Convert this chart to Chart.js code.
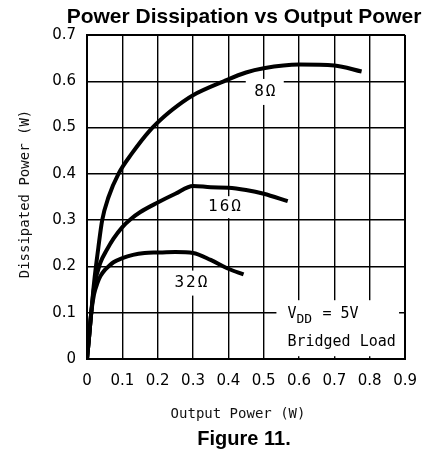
<!DOCTYPE html>
<html><head><meta charset="utf-8">
<script src="https://cdn.jsdelivr.net/npm/chart.js@4.4.1/dist/chart.umd.min.js"></script>
<style>html,body{margin:0;padding:0;background:#fff}#wrap{width:430px;height:457px}</style>
</head><body><div id="wrap"><canvas id="c" width="430" height="457"></canvas></div>
<script>
// ---- data ----
const xTicks = [0, 0.1, 0.2, 0.3, 0.4, 0.5, 0.6, 0.7, 0.8, 0.9];
const xTickLabels = ['0', '0.1', '0.2', '0.3', '0.4', '0.5', '0.6', '0.7', '0.8', '0.9'];
const yTicks = [0, 0.1, 0.2, 0.3, 0.4, 0.5, 0.6, 0.7];
const yTickLabels = ['0', '0.1', '0.2', '0.3', '0.4', '0.5', '0.6', '0.7'];
const seriesNames = ['8Ω', '16Ω', '32Ω'];

const x8 = [0, 0.005, 0.012, 0.02, 0.032, 0.043, 0.061, 0.089, 0.126, 0.177, 0.22, 0.27, 0.3, 0.387, 0.45, 0.5, 0.6, 0.7, 0.777];
const y8 = [0, 0.04, 0.10, 0.165, 0.24, 0.30, 0.35, 0.40, 0.443, 0.493, 0.525, 0.555, 0.57, 0.60, 0.619, 0.628, 0.636, 0.634, 0.621];

const x16 = [0, 0.005, 0.012, 0.02, 0.038, 0.057, 0.075, 0.1, 0.125, 0.15, 0.2, 0.25, 0.3, 0.35, 0.4, 0.45, 0.5, 0.568];
const y16 = [0, 0.04, 0.10, 0.155, 0.208, 0.237, 0.26, 0.285, 0.303, 0.317, 0.338, 0.357, 0.374, 0.371, 0.37, 0.365, 0.357, 0.341];

const x32 = [0, 0.005, 0.012, 0.02, 0.03, 0.038, 0.05, 0.061, 0.075, 0.1, 0.13, 0.163, 0.2, 0.25, 0.3, 0.35, 0.4, 0.443];
const y32 = [0, 0.04, 0.10, 0.14, 0.165, 0.179, 0.192, 0.20, 0.209, 0.218, 0.225, 0.229, 0.23, 0.231, 0.229, 0.214, 0.195, 0.183];

// ---- text ----
const titleText = 'Power Dissipation vs Output Power';
const xTitle = 'Output Power (W)';
const yTitle = 'Dissipated Power (W)';
const figText = 'Figure 11.';

const toPts = (xs, ys) => xs.map((x, i) => ({x: x, y: ys[i]}));

// label anchors in data units
const curveLabels = [
  {text: '8Ω', x: 0.503, y: 0.577, w: 38, h: 26},
  {text: '16Ω', x: 0.389, y: 0.328, w: 42, h: 22},
  {text: '32Ω', x: 0.294, y: 0.164, w: 44, h: 25}
];

const mono = "'DejaVu Sans Mono', monospace";

const annot = {
  id: 'annot',
  beforeDatasetsDraw(chart) {
    const {ctx, scales: {x, y}} = chart;
    ctx.save();
    ctx.fillStyle = '#fff';
    const bx0 = x.getPixelForValue(0.536), bx1 = x.getPixelForValue(0.883);
    const by0 = y.getPixelForValue(0.127), by1 = y.getPixelForValue(0.006);
    ctx.fillRect(bx0, by0, bx1 - bx0, by1 - by0);
    curveLabels.forEach(l => {
      const px = x.getPixelForValue(l.x), py = y.getPixelForValue(l.y);
      ctx.fillRect(px - l.w / 2, py - l.h / 2, l.w, l.h);
    });
    ctx.restore();
  },
  afterDatasetsDraw(chart) {
    const {ctx, scales: {x, y}} = chart;
    ctx.save();
    ctx.fillStyle = '#000';
    ctx.textBaseline = 'middle';
    ctx.textAlign = 'center';
    ctx.font = '16px ' + mono;
    try { ctx.letterSpacing = '2px'; } catch (e) {}
    curveLabels.forEach(l => {
      ctx.fillText(l.text, x.getPixelForValue(l.x) + 1, y.getPixelForValue(l.y));
    });
    try { ctx.letterSpacing = '0px'; } catch (e) {}
    ctx.textAlign = 'left';
    ctx.font = '15px ' + mono;
    const tx = x.getPixelForValue(0.567);
    const ty1 = y.getPixelForValue(0.098);
    const ty2 = y.getPixelForValue(0.037);
    ctx.fillText('V', tx, ty1);
    ctx.font = '13px ' + mono;
    ctx.fillText('DD', tx + 9, ty1 + 6);
    ctx.font = '15px ' + mono;
    ctx.fillText(' = 5V', tx + 26, ty1);
    ctx.fillText('Bridged Load', tx, ty2);

    const ca = chart.chartArea;
    const cx = 244;
    ctx.textAlign = 'center';
    ctx.font = "bold 21px 'Liberation Sans', Arial, sans-serif";
    ctx.fillText(titleText, cx, 17.5);
    ctx.font = "bold 20px 'Liberation Sans', Arial, sans-serif";
    ctx.fillText(figText, cx, 439);
    ctx.font = '14px ' + mono;
    ctx.fillStyle = '#111';
    ctx.fillText(xTitle, (ca.left + ca.right) / 2 - 8, 414);
    ctx.translate(25, 194);
    ctx.rotate(-Math.PI / 2);
    ctx.fillText(yTitle, 0, 0);
    ctx.restore();
  }
};

const edgeWidth = (c, n) => (c.index === 0 || c.index === n - 1) ? 2 : 1.4;

new Chart(document.getElementById('c'), {
  type: 'line',
  data: {
    datasets: [
      {label: seriesNames[0], data: toPts(x8, y8)},
      {label: seriesNames[1], data: toPts(x16, y16)},
      {label: seriesNames[2], data: toPts(x32, y32)}
    ].map(d => Object.assign(d, {
      borderColor: '#000', borderWidth: 4, pointRadius: 0, fill: false,
      cubicInterpolationMode: 'monotone', borderCapStyle: 'butt', borderJoinStyle: 'round'
    }))
  },
  options: {
    responsive: false,
    animation: false,
    devicePixelRatio: 1,
    layout: {padding: {top: 35, right: 19, left: 0, bottom: 0}},
    plugins: {legend: {display: false}, tooltip: {enabled: false}, title: {display: false}},
    scales: {
      x: {
        type: 'linear', min: 0, max: 0.9,
        afterBuildTicks: s => { s.ticks = xTicks.map(v => ({value: v})); },
        afterFit: s => { s.height = 98; },
        ticks: {
          callback: (v, i) => xTickLabels[i],
          color: '#000', padding: 13, maxRotation: 0, autoSkip: false,
          font: {family: 'DejaVu Sans', size: 15}
        },
        grid: {color: '#000', lineWidth: c => edgeWidth(c, xTicks.length), drawTicks: false},
        border: {display: true, color: '#000', width: 2}
      },
      y: {
        type: 'linear', min: 0, max: 0.7,
        afterBuildTicks: s => { s.ticks = yTicks.map(v => ({value: v})); },
        afterFit: s => { s.width = 87; },
        ticks: {
          callback: (v, i) => yTickLabels[i],
          color: '#000', padding: 11, autoSkip: false,
          font: {family: 'DejaVu Sans', size: 15}
        },
        grid: {color: '#000', lineWidth: c => edgeWidth(c, yTicks.length), drawTicks: false},
        border: {display: true, color: '#000', width: 2}
      }
    }
  },
  plugins: [annot]
});
</script></body></html>
